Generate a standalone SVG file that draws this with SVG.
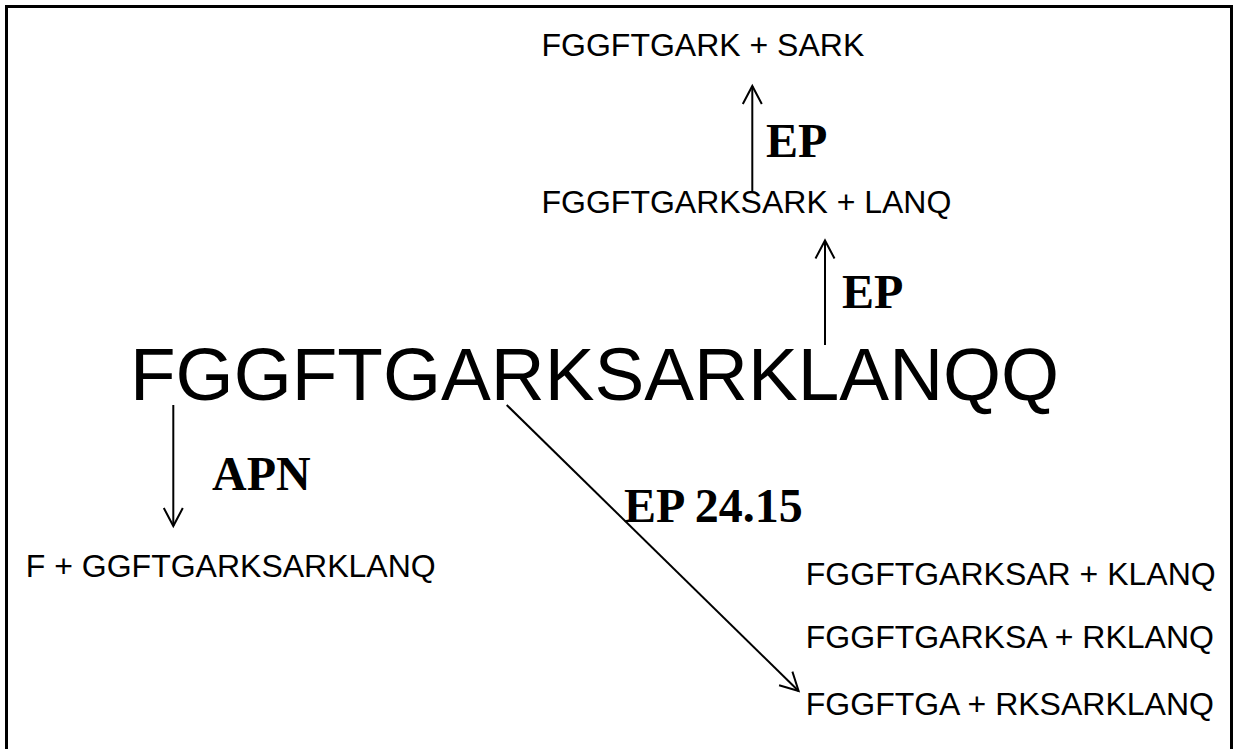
<svg xmlns="http://www.w3.org/2000/svg" width="1234" height="749" viewBox="0 0 1234 749">
<style>
.seq{font-family:"Liberation Sans",Arial,sans-serif;font-size:32px;fill:#000}
.big{font-family:"Liberation Sans",Arial,sans-serif;font-size:74.67px;fill:#000}
.lbl{font-family:"Liberation Serif","Times New Roman",serif;font-weight:bold;font-size:48px;fill:#000}
.conn{stroke:#000;stroke-width:2;fill:none}
</style>
<defs>
<marker id="arr" viewBox="-21 -12 24 24" refX="0" refY="0" markerWidth="24" markerHeight="24" orient="auto" markerUnits="userSpaceOnUse">
<path d="M-18,-9.5 L0,0 L-18,9.5" fill="none" stroke="#000" stroke-width="2"/>
</marker>
</defs>
<rect width="1234" height="749" fill="#fff"/>
<path id="frame" d="M6.5,749 V6.5 H1231.5 V749" fill="none" stroke="#000" stroke-width="3"/>
<g id="connectors">
<path class="conn" d="M173.3,405 V526" marker-end="url(#arr)"/>
<path class="conn" d="M752.3,192 V86" marker-end="url(#arr)"/>
<path class="conn" d="M825,345 V240.5" marker-end="url(#arr)"/>
<path class="conn" d="M506.7,405 L798.6,691" marker-end="url(#arr)"/>
</g>
<g id="node-main"><text class="big" x="130" y="400">FGGFTGARKSARKLANQQ</text></g>
<g id="node-top"><text class="seq" x="541.5" y="56">FGGFTGARK + SARK</text></g>
<g id="node-mid"><text class="seq" x="541.5" y="213">FGGFTGARKSARK + LANQ</text></g>
<g id="node-apn"><text class="seq" x="25.8" y="577">F + GGFTGARKSARKLANQ</text></g>
<g id="node-r1"><text class="seq" x="805.8" y="585">FGGFTGARKSAR + KLANQ</text></g>
<g id="node-r2"><text class="seq" x="805.8" y="648">FGGFTGARKSA + RKLANQ</text></g>
<g id="node-r3"><text class="seq" x="805.8" y="715">FGGFTGA + RKSARKLANQ</text></g>
<g id="labels">
<text class="lbl" x="766" y="157">EP</text>
<text class="lbl" x="842" y="307.5">EP</text>
<text class="lbl" x="212" y="490">APN</text>
<text class="lbl" x="624" y="522">EP 24.15</text>
</g>
</svg>
